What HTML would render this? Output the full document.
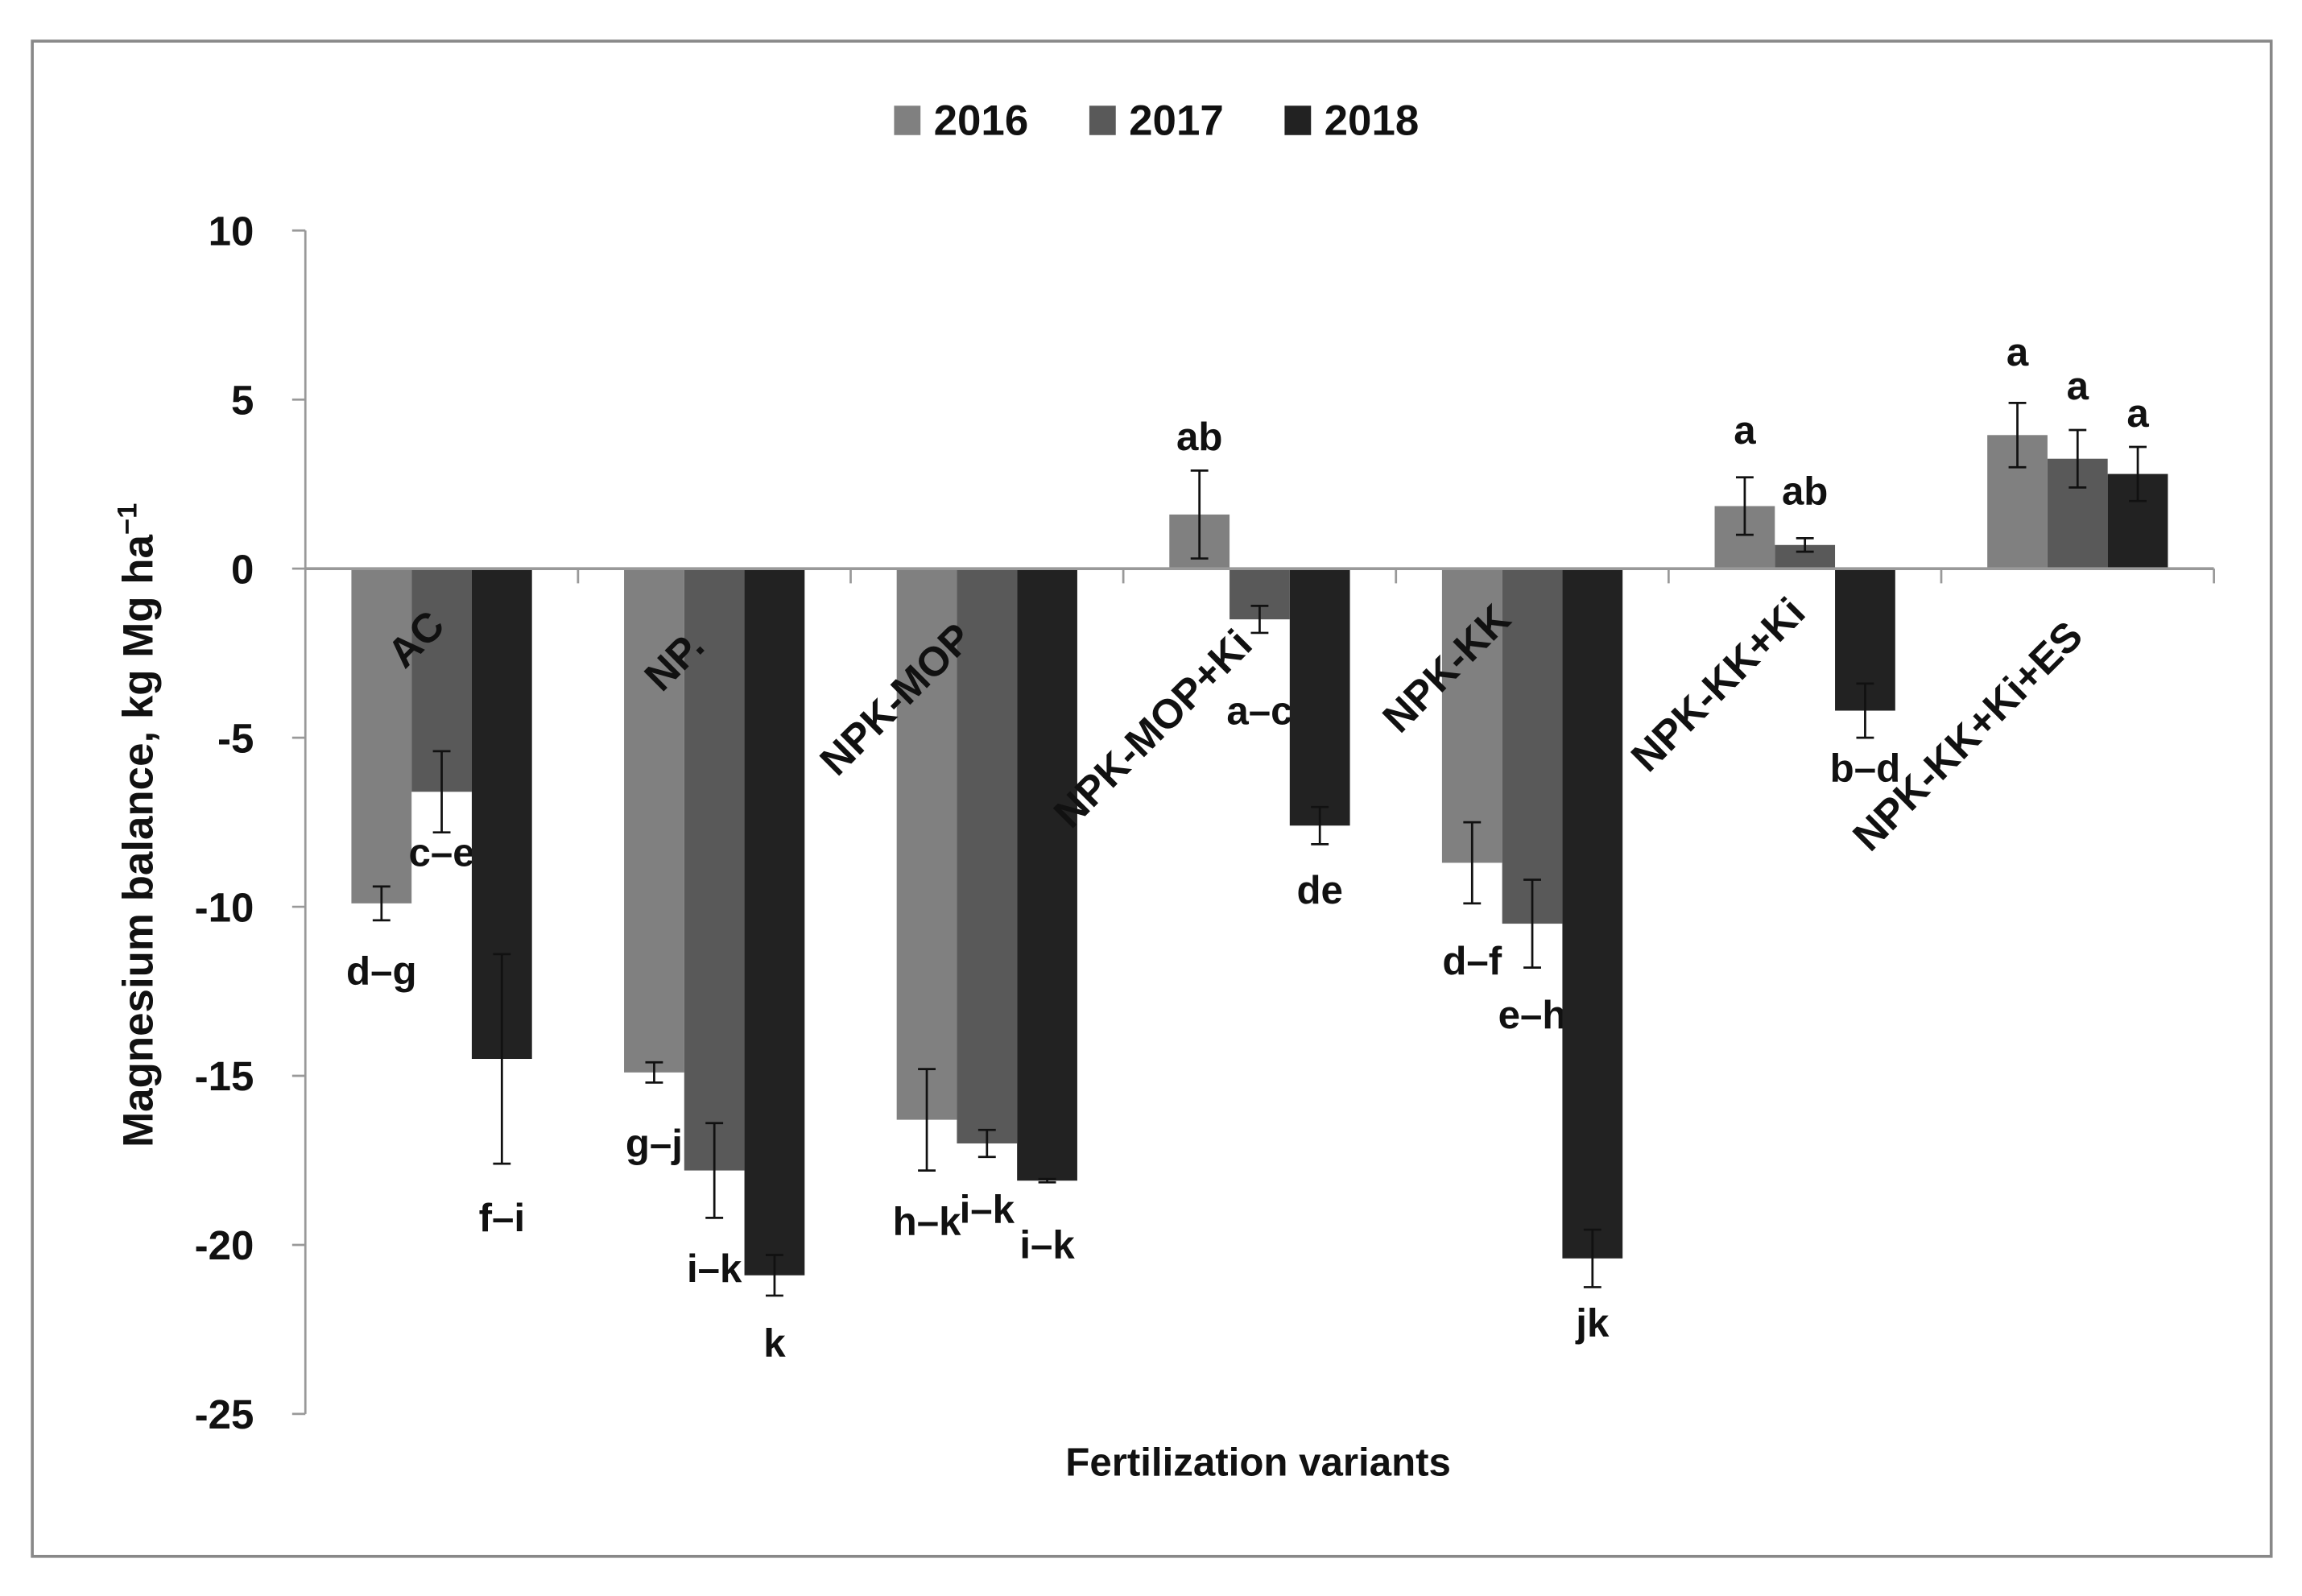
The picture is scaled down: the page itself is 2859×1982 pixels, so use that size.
<!DOCTYPE html>
<html><head><meta charset="utf-8"><style>
html,body{margin:0;padding:0;background:#fff;}
svg{display:block;}
text{font-family:"Liberation Sans",sans-serif;font-weight:bold;fill:#111;}
</style></head><body>
<svg id="chart" width="2859" height="1982" viewBox="0 0 1568 1087" preserveAspectRatio="none" xmlns="http://www.w3.org/2000/svg">
<rect x="22" y="28" width="1525" height="1032" fill="#fff" stroke="#888" stroke-width="2"/>
<g id="legend">
<g><rect x="609" y="72" width="18" height="20" fill="#808080"/><text x="636" y="92" font-size="29">2016</text></g>
<g><rect x="742" y="72" width="18" height="20" fill="#595959"/><text x="769" y="92" font-size="29">2017</text></g>
<g><rect x="875" y="72" width="18" height="20" fill="#222"/><text x="902" y="92" font-size="29">2018</text></g>
</g>
<text transform="translate(104,562) rotate(-90)" text-anchor="middle" font-size="29">Magnesium balance, kg Mg ha<tspan font-size="19" dy="-11">−1</tspan></text>
<text x="857" y="1005" text-anchor="middle" font-size="27">Fertilization variants</text>
<g id="plot"></g>
</svg>
<script>
const categories = ["AC","NP.","NPK-MOP","NPK-MOP+Ki","NPK-KK","NPK-KK+Ki","NPK-KK+Ki+ES"];
const years = ["2016","2017","2018"];
const v2016 = [-9.9,-14.9,-16.3,1.6,-8.7,1.85,3.95];
const v2017 = [-6.6,-17.8,-17.0,-1.5,-10.5,0.7,3.25];
const v2018 = [-14.5,-20.9,-18.1,-7.6,-20.4,-4.2,2.8];
const e2016 = [0.5,0.3,1.5,1.3,1.2,0.85,0.95];
const e2017 = [1.2,1.4,0.4,0.4,1.3,0.2,0.85];
const e2018 = [3.1,0.6,0.05,0.55,0.85,0.8,0.8];
const l2016 = ["d–g","g–j","h–k","ab","d–f","a","a"];
const l2017 = ["c–e","i–k","i–k","a–c","e–h","ab","a"];
const l2018 = ["f–i","k","i–k","de","jk","b–d","a"];
const ly2016 = [-12.3,-17.4,-19.7,3.5,-12.0,3.7,6.0];
const ly2017 = [-8.8,-21.1,-19.35,-4.6,-13.6,1.9,5.0];
const ly2018 = [-19.6,-23.3,-20.4,-9.9,-22.7,-6.3,4.2];
const yTicks = [10,5,0,-5,-10,-15,-20,-25];
const catLabelPos = [[290,442],[466,457],[617,483],[792,503],[992,462],[1177,473],[1347,508]];

const NS="http://www.w3.org/2000/svg";
const plot=document.getElementById('plot');
const x0=208,x1=1508,yMin=-25,yMax=10,yTop=157,yBot=963;
function y(v){return yTop+(yMax-v)/(yMax-yMin)*(yBot-yTop);}
const cw=(x1-x0)/categories.length, bw=41, pad=(cw-3*bw)/2;
function bx(i,s){return x0+i*cw+pad+s*bw;}
function mk(tag,attrs,parent){const e=document.createElementNS(NS,tag);for(const k in attrs)e.setAttribute(k,attrs[k]);(parent||plot).appendChild(e);return e;}

const ya=mk('line',{x1:x0,y1:yTop,x2:x0,y2:yBot,stroke:'#999','stroke-width':1.5});


yTicks.forEach(t=>{
  mk('line',{x1:x0-9,y1:y(t),x2:x0,y2:y(t),stroke:'#999','stroke-width':1.5});
  const tx=mk('text',{x:173,y:y(t)+10,'text-anchor':'end','font-size':28});
  tx.textContent=t;
  
  
});
const vals=[v2016,v2017,v2018], errs=[e2016,e2017,e2018], labs=[l2016,l2017,l2018], lys=[ly2016,ly2017,ly2018];
const cols=['#808080','#595959','#222'];
categories.forEach((c,i)=>{
  for(let s=0;s<3;s++){
    const v=vals[s][i], top=Math.min(y(v),y(0)), h=Math.abs(y(v)-y(0));
    const r=mk('rect',{x:bx(i,s),y:top,width:bw,height:h,fill:cols[s]});
    
    
    const cx=bx(i,s)+bw/2, e=errs[s][i];
    mk('line',{x1:cx,y1:y(v+e),x2:cx,y2:y(v-e),stroke:'#111','stroke-width':1.5});
    mk('line',{x1:cx-6,y1:y(v+e),x2:cx+6,y2:y(v+e),stroke:'#111','stroke-width':1.5});
    mk('line',{x1:cx-6,y1:y(v-e),x2:cx+6,y2:y(v-e),stroke:'#111','stroke-width':1.5});
    const lt=mk('text',{x:cx,y:y(lys[s][i]),'text-anchor':'middle','font-size':27});
    lt.textContent=labs[s][i];
    
    
  }
});
const xa=mk('line',{x1:x0,y1:y(0),x2:x1,y2:y(0),stroke:'#999','stroke-width':2});


for(let k=1;k<=categories.length;k++){
  mk('line',{x1:x0+k*cw,y1:y(0),x2:x0+k*cw,y2:y(0)+10,stroke:'#999','stroke-width':1.5});
}
categories.forEach((c,i)=>{
  const p=catLabelPos[i];
  const t=mk('text',{x:0,y:0,'text-anchor':'middle','font-size':28,transform:`translate(${p[0]},${p[1]}) rotate(-45)`});
  t.textContent=c;
  
  
});
</script>
</body></html>
